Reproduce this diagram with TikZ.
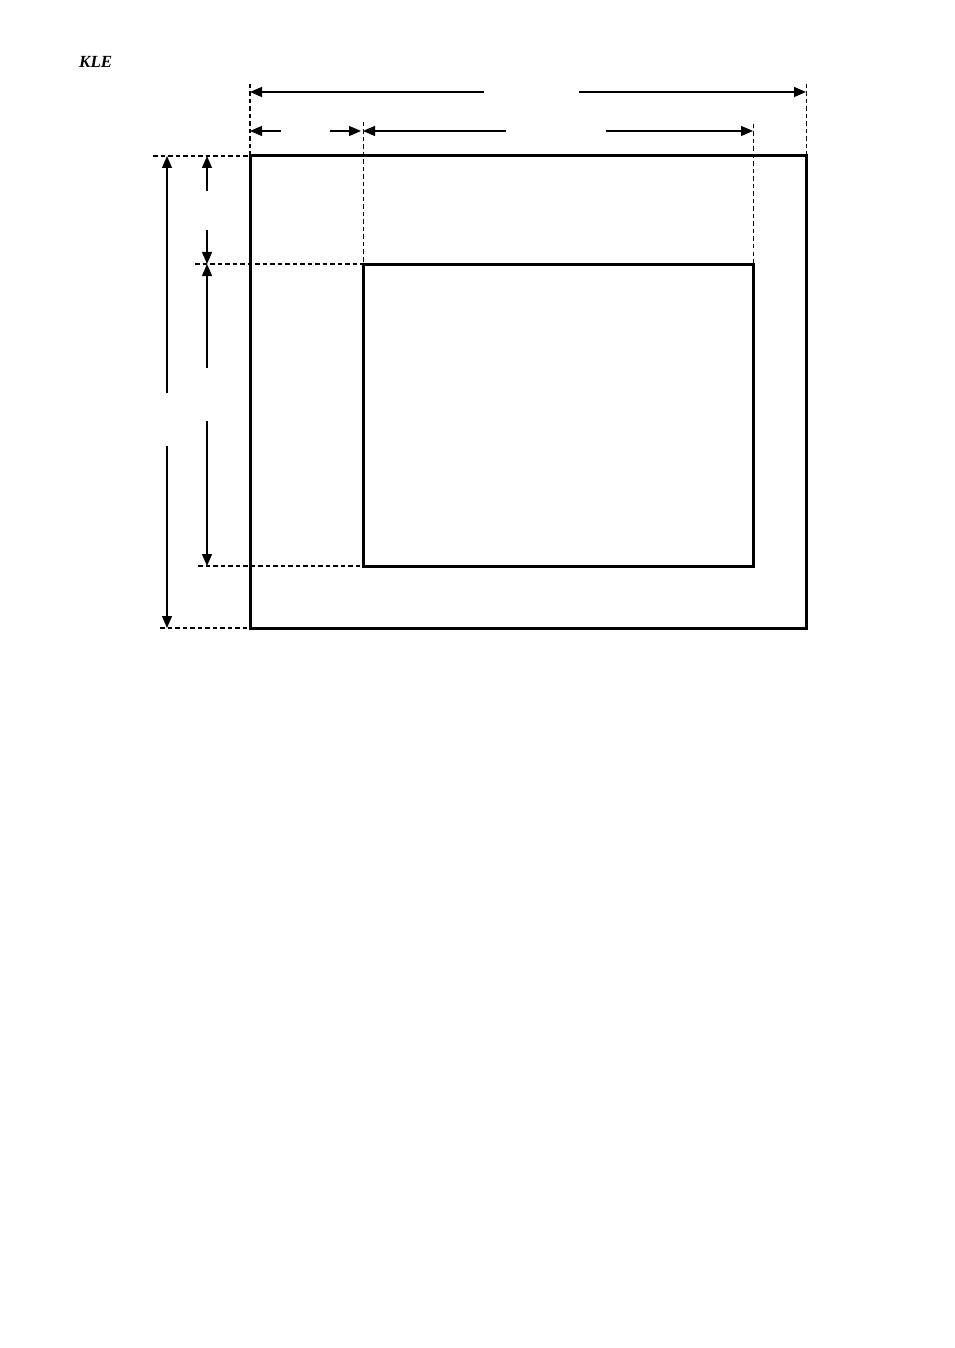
\documentclass[tikz,border=0pt]{standalone}
\usepackage{fontspec}
\setmainfont{Liberation Serif}
\usetikzlibrary{arrows.meta}
\begin{document}
\begin{tikzpicture}[x=1pt,y=-1pt,
  frame/.style={line width=3pt},
  ext/.style={line width=1.1pt,dash pattern=on 4.5pt off 3pt},
  extthin/.style={line width=0.8pt,dash pattern=on 4.5pt off 3pt},
  dimarrow/.style={line width=1.3pt,-{Triangle[length=12pt,width=10pt]}},
  lbl/.style={font=\bfseries\itshape\fontsize{17}{19}\selectfont,inner sep=0pt,anchor=west}]
\useasboundingbox (0,0) rectangle (954,1348);
\node[lbl] (kle) at (79,62) {KLE};
% outer and inner frames
\coordinate (oTL) at (250,156); \coordinate (oBR) at (806,628);
\coordinate (iTL) at (363,264); \coordinate (iBR) at (753,566);
\draw[frame] (oTL) rectangle (oBR);
\draw[frame] (iTL) rectangle (iBR);
% extension lines
\coordinate (e1t) at (250,84); \coordinate (e2t) at (806,84);
\coordinate (e2b) at (806,156);
\coordinate (e3t) at (363,122); \coordinate (e4t) at (753,124);
\coordinate (e4b) at (753,264);
\draw[ext] (e1t) -- (oTL);
\draw[extthin] (e2t) -- (e2b);
\draw[extthin] (e3t) -- (iTL);
\draw[extthin] (e4t) -- (e4b);
\coordinate (h1l) at (153,156); \coordinate (h2l) at (160,628);
\coordinate (h2r) at (250,628);
\coordinate (h3l) at (195,264); \coordinate (h4l) at (198,566);
\coordinate (h4r) at (363,566);
\draw[ext] (h1l) -- (oTL);
\draw[ext] (h2l) -- (h2r);
\draw[ext] (h3l) -- (iTL);
\draw[ext] (h4l) -- (h4r);
% top overall width
\coordinate (a1l) at (250,92); \coordinate (a1r) at (806,92);
\coordinate (g1l) at (484,92); \coordinate (g1r) at (579,92);
\draw[dimarrow] (g1l) -- (a1l);
\draw[dimarrow] (g1r) -- (a1r);
% second row
\coordinate (a2l) at (250,131); \coordinate (a2m) at (361,131);
\coordinate (g2l) at (281,131); \coordinate (g2r) at (330,131);
\draw[dimarrow] (g2l) -- (a2l);
\draw[dimarrow] (g2r) -- (a2m);
\coordinate (a3l) at (363,131); \coordinate (a3r) at (753,131);
\coordinate (g3l) at (506,131); \coordinate (g3r) at (606,131);
\draw[dimarrow] (g3l) -- (a3l);
\draw[dimarrow] (g3r) -- (a3r);
% left overall height
\coordinate (v1t) at (167,156); \coordinate (v1b) at (167,628);
\coordinate (gv1t) at (167,393); \coordinate (gv1b) at (167,446);
\draw[dimarrow] (gv1t) -- (v1t);
\draw[dimarrow] (gv1b) -- (v1b);
% inner left heights
\coordinate (v2t) at (207,156); \coordinate (v2b) at (207,264);
\coordinate (gv2t) at (207,191); \coordinate (gv2b) at (207,230);
\draw[dimarrow] (gv2t) -- (v2t);
\draw[dimarrow] (gv2b) -- (v2b);
\coordinate (v3t) at (207,264); \coordinate (v3b) at (207,566);
\coordinate (gv3t) at (207,368); \coordinate (gv3b) at (207,421);
\draw[dimarrow] (gv3t) -- (v3t);
\draw[dimarrow] (gv3b) -- (v3b);
\end{tikzpicture}
\end{document}
